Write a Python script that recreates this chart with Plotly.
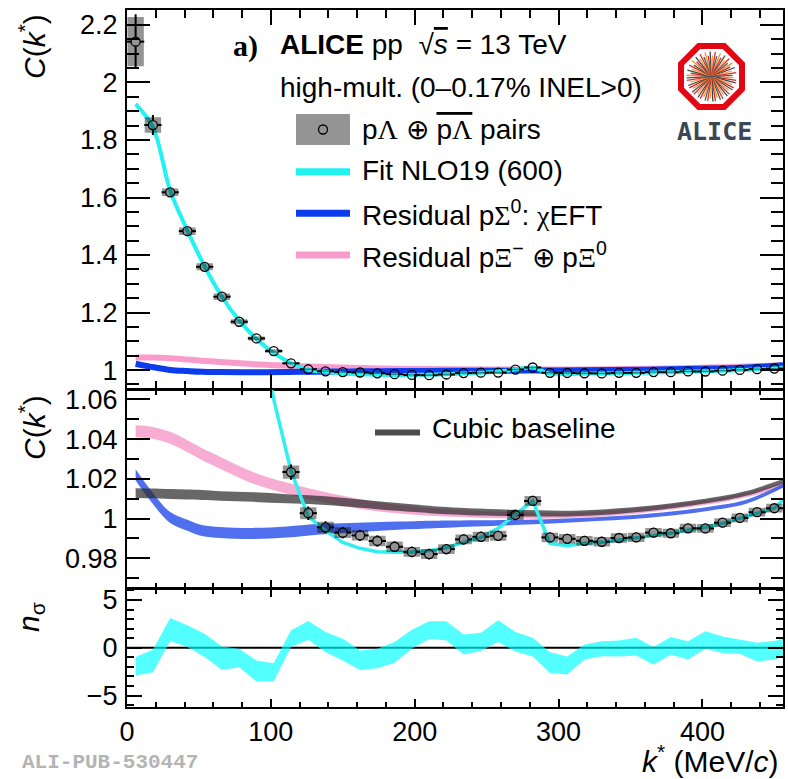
import numpy as np
import plotly.graph_objects as go

# ---------------- data ----------------
k_star = [6, 18, 30, 42, 54, 66, 78, 90, 102, 114, 126, 138, 150, 162, 174, 186, 198, 210, 222,
          234, 246, 258, 270, 282, 294, 306, 318, 330, 342, 354, 366, 378, 390, 402, 414, 426, 438, 450]
c_data = [2.142, 1.852, 1.618, 1.483, 1.359, 1.255, 1.168, 1.110, 1.066, 1.0234, 1.0027, 0.9956,
          0.9929, 0.9915, 0.9887, 0.9858, 0.9832, 0.9821, 0.9846, 0.9895, 0.9908, 0.9913, 1.0018,
          1.0089, 0.9905, 0.9898, 0.9888, 0.9883, 0.9902, 0.9905, 0.9929, 0.9926, 0.9951, 0.9950,
          0.9979, 1.0003, 1.0032, 1.0052]
c_stat = [0.095, 0.035, 0.016, 0.012, 0.010, 0.008, 0.007, 0.006, 0.005, 0.0038, 0.0034, 0.0030,
          0.0029, 0.0028, 0.0028, 0.0027, 0.0027, 0.0027, 0.0026, 0.0026, 0.0026, 0.0026, 0.0026,
          0.0026, 0.0025, 0.0025, 0.0025, 0.0025, 0.0025, 0.0024, 0.0024, 0.0024, 0.0024, 0.0024,
          0.0024, 0.0023, 0.0023, 0.0023]
c_sys = [0.0855, 0.027, 0.013, 0.013, 0.012, 0.011, 0.009, 0.007, 0.006, 0.0033, 0.0030, 0.0028,
         0.0027, 0.0026, 0.0026, 0.0026, 0.0025, 0.0025, 0.0025, 0.0025, 0.0025, 0.0025, 0.0025,
         0.0025, 0.0024, 0.0024, 0.0024, 0.0024, 0.0024, 0.0023, 0.0023, 0.0023, 0.0023, 0.0022,
         0.0022, 0.0022, 0.0022, 0.0022]

k_fit = [6, 18, 30, 42, 54, 66, 78, 90, 102, 114, 126, 138, 150, 162, 174, 186, 198, 210, 222,
         234, 246, 258, 270, 282, 294, 306, 318, 330, 342, 354, 366, 378, 390, 402, 414, 426, 438, 450, 456]
c_fit = [1.925, 1.845, 1.625, 1.485, 1.360, 1.255, 1.172, 1.108, 1.060, 1.024, 1.001, 0.9939,
         0.9880, 0.9850, 0.9833, 0.9830, 0.9831, 0.9838, 0.9853, 0.9880, 0.9905, 0.9951, 1.0018,
         1.0089, 0.9875, 0.9863, 0.9875, 0.9880, 0.9892, 0.9902, 0.9914, 0.9927, 0.9942, 0.9956,
         0.9976, 1.0000, 1.0027, 1.0052, 1.0094]

k_res = [6, 16, 30, 42, 52, 65, 88, 111, 132, 155, 176, 200, 222, 269, 315, 361, 407, 431, 456]
c_sigma0 = [1.0220, 1.0120, 1.0005, 0.9966, 0.9940, 0.9930, 0.9925, 0.9932, 0.9945, 0.9953,
            0.9961, 0.9967, 0.9972, 0.9980, 0.9993, 1.0013, 1.0052, 1.0086, 1.0165]
c_sigma0_err = [0.0028, 0.0028, 0.0028, 0.0028, 0.0028, 0.0028, 0.0028, 0.0028, 0.0027, 0.0025,
                0.0022, 0.0020, 0.0018, 0.0013, 0.0010, 0.0010, 0.0010, 0.0010, 0.0010]
c_xi = [1.0440, 1.0434, 1.0407, 1.0364, 1.0325, 1.0280, 1.0204, 1.0153, 1.0115, 1.0082, 1.0058,
        1.0040, 1.0029, 1.0016, 1.0018, 1.0044, 1.0086, 1.0120, 1.0170]
c_xi_err = [0.0030, 0.0030, 0.0030, 0.0030, 0.0030, 0.0030, 0.0029, 0.0028, 0.0027, 0.0025,
            0.0023, 0.0021, 0.0019, 0.0016, 0.0014, 0.0013, 0.0012, 0.0012, 0.0012]
c_base = [1.0128, 1.0127, 1.0124, 1.0121, 1.0119, 1.0114, 1.0108, 1.0100, 1.0093, 1.0080, 1.0066,
          1.0052, 1.0040, 1.0028, 1.0027, 1.0050, 1.0094, 1.0128, 1.0187]
c_base_err = [0.0025, 0.0025, 0.0025, 0.0025, 0.0025, 0.0024, 0.0024, 0.0023, 0.0022, 0.0021,
              0.0020, 0.0019, 0.0018, 0.0016, 0.0014, 0.0013, 0.0012, 0.0012, 0.0012]

k_nsig = k_fit
nsig_hi = [-0.98, -0.21, 3.12, 2.35, 1.47, 0.14, -0.10, -1.33, -1.61, 1.82, 2.81, 1.65, 0.95, -0.28,
           -0.10, 0.60, 1.89, 2.77, 2.77, 1.40, 1.58, 2.88, 1.65, 1.05, -0.46, -0.91, 0.35, 0.67,
           0.77, 1.05, 0.07, 1.12, 0.67, 1.72, 1.19, 0.88, 0.53, 0.70, 0.95]
nsig_lo = [-2.91, -2.56, 0.70, 0.07, -0.98, -2.32, -2.04, -3.54, -3.51, 0.07, 0.84, -0.46, -1.33,
           -2.32, -2.14, -1.58, -0.10, 0.95, 0.77, -0.70, -0.35, 0.60, -0.39, -0.91, -2.63, -2.81,
           -1.23, -0.88, -0.91, -0.81, -1.79, -0.74, -1.23, -0.10, -0.56, -0.63, -1.44, -1.23, -0.98]

x_ticks = [0, 100, 200, 300, 400]

# ---------------- geometry ----------------
W, H = 788, 779
ML, MR, MT, MB = 127, 5, 10, 72
PW, PH = W - ML - MR, H - MT - MB
X_RANGE = [0, 456]
Y1_RANGE = [0.934, 2.252]
Y2_RANGE = [0.965, 1.065]
Y3_RANGE = [-6.2, 6.2]
DOM1 = [0.4562, 1.0]
DOM2 = [0.1707, 0.4555]
DOM3 = [0.0, 0.1700]


def px(x):
    return (x - ML) / PW


def py(y):
    return (H - MB - y) / PH


px_per_k = PW / (X_RANGE[1] - X_RANGE[0])


def px_per_unit(dom, rng):
    return (dom[1] - dom[0]) * PH / (rng[1] - rng[0])


k = np.array(k_star, float)
c = np.array(c_data)
stat = np.array(c_stat)
sys = np.array(c_sys)
half_bin = (k[1] - k[0]) / 2.0
MARK_R = 4.5  # px


def box_path(kk, cc, ss, hw):
    xs, ys = [], []
    for a, b, s in zip(kk, cc, ss):
        xs += [a - hw, a + hw, a + hw, a - hw, a - hw, None]
        ys += [b - s, b - s, b + s, b + s, b - s, None]
    return xs, ys


def err_path(kk, cc, ss, xe, rx, ry):
    xs, ys = [], []
    for a, b, s in zip(kk, cc, ss):
        xs += [a - xe, a - rx, None, a + rx, a + xe, None]
        ys += [b, b, None, b, b, None]
        if s > ry:
            xs += [a, a, None, a, a, None]
            ys += [b + ry, b + s, None, b - ry, b - s, None]
    return xs, ys


fig = go.Figure()

CYAN = '#22f2f2'
BLUE = '#0c3cec'
PINK = '#fa9ccb'

# ---------------- top panel ----------------
fig.add_trace(go.Scatter(x=k_res, y=c_xi, mode='lines', line=dict(color=PINK, width=6, shape='spline'),
                         xaxis='x', yaxis='y', showlegend=False))
fig.add_trace(go.Scatter(x=k_res, y=c_sigma0, mode='lines', line=dict(color=BLUE, width=6, shape='spline'),
                         xaxis='x', yaxis='y', showlegend=False))
fig.add_trace(go.Scatter(x=k_fit, y=c_fit, mode='lines', line=dict(color=CYAN, width=4, shape='spline'),
                         xaxis='x', yaxis='y', showlegend=False))


def add_data(xa, ya, mask, dom, rng):
    ppu = px_per_unit(dom, rng)
    bx, by = box_path(k[mask], c[mask], sys[mask], half_bin * 0.95)
    fig.add_trace(go.Scatter(x=bx, y=by, mode='lines', fill='toself', fillcolor='rgba(0,0,0,0.42)',
                             line=dict(width=0), xaxis=xa, yaxis=ya, showlegend=False, hoverinfo='skip'))
    ex, ey = err_path(k[mask], c[mask], stat[mask], half_bin, MARK_R / px_per_k, MARK_R / ppu)
    fig.add_trace(go.Scatter(x=ex, y=ey, mode='lines', line=dict(color='black', width=2),
                             xaxis=xa, yaxis=ya, showlegend=False, hoverinfo='skip'))
    fig.add_trace(go.Scatter(x=k[mask], y=c[mask], mode='markers',
                             marker=dict(symbol='circle-open', size=2 * MARK_R,
                                         line=dict(color='black', width=1.3), color='black'),
                             xaxis=xa, yaxis=ya, showlegend=False))


add_data('x', 'y', c < Y1_RANGE[1] + 1, DOM1, Y1_RANGE)

# ---------------- middle panel ----------------
def add_band(xv, center, err, color, xa, ya):
    lo = np.array(center) - np.array(err)
    hi = np.array(center) + np.array(err)
    fig.add_trace(go.Scatter(x=xv, y=lo, mode='lines', line=dict(width=0, shape='spline'),
                             xaxis=xa, yaxis=ya, showlegend=False, hoverinfo='skip'))
    fig.add_trace(go.Scatter(x=xv, y=hi, mode='lines', line=dict(width=0, shape='spline'), fill='tonexty',
                             fillcolor=color, xaxis=xa, yaxis=ya, showlegend=False, hoverinfo='skip'))


add_band(k_res, c_xi, c_xi_err, 'rgba(244,140,196,0.72)', 'x2', 'y2')
add_band(k_res, c_sigma0, c_sigma0_err, 'rgba(30,70,235,0.78)', 'x2', 'y2')
add_band(k_res, c_base, c_base_err, 'rgba(45,45,45,0.72)', 'x2', 'y2')
fig.add_trace(go.Scatter(x=k_fit, y=c_fit, mode='lines', line=dict(color='#33eeee', width=3.5),
                         xaxis='x2', yaxis='y2', showlegend=False))
add_data('x2', 'y2', c < Y2_RANGE[1], DOM2, Y2_RANGE)

# ---------------- bottom panel ----------------
fig.add_trace(go.Scatter(x=k_nsig, y=nsig_lo, mode='lines', line=dict(width=0),
                         xaxis='x3', yaxis='y3', showlegend=False, hoverinfo='skip'))
fig.add_trace(go.Scatter(x=k_nsig, y=nsig_hi, mode='lines', line=dict(width=0), fill='tonexty',
                         fillcolor='rgba(0,255,255,0.67)', xaxis='x3', yaxis='y3', showlegend=False))

# ---------------- axes ----------------
FONT = 'Liberation Sans, Arial, sans-serif'


def xax(anchor, labels, mlen, nlen):
    return dict(range=X_RANGE, domain=[0, 1], anchor=anchor, showline=True, linecolor='black', linewidth=2,
                mirror='ticks', ticks='inside', ticklen=mlen, tickwidth=2, tickcolor='black',
                tickvals=x_ticks, showticklabels=labels, showgrid=False, zeroline=False,
                minor=dict(dtick=20, tick0=0, ticks='inside', ticklen=nlen, tickwidth=2, tickcolor='black',
                           showgrid=False),
                tickfont=dict(family=FONT, size=27, color='black'), ticklabelstandoff=0)


def yax(anchor, dom, rng, dt, mdt, mlen, nlen):
    return dict(range=rng, domain=dom, anchor=anchor, showline=True, linecolor='black', linewidth=2,
                mirror='ticks', ticks='inside', ticklen=mlen, tickwidth=2, tickcolor='black',
                dtick=dt, tick0=0, showgrid=False, zeroline=False,
                minor=dict(dtick=mdt, ticks='inside', ticklen=nlen, tickwidth=2, tickcolor='black',
                           showgrid=False),
                tickfont=dict(family=FONT, size=27, color='black'), ticklabelstandoff=2)


shapes = []
annotations = []

# zero line in n_sigma panel
shapes.append(dict(type='line', xref='x3 domain', yref='y3', x0=0, x1=1, y0=0, y1=0,
                   line=dict(color='black', width=2), layer='below'))


def ann(x, y, text, size=28, xanchor='left', family=FONT, color='black', angle=0):
    annotations.append(dict(x=px(x), y=py(y), xref='paper', yref='paper', text=text, showarrow=False,
                            xanchor=xanchor, yanchor='middle', textangle=angle,
                            font=dict(family=family, size=size, color=color)))


SER = "font-family:'Liberation Serif','Times New Roman',serif"
OVL = "text-decoration:overline"

ann(231, 46, '<b>a)</b>', size=30, family='Liberation Serif, Times New Roman, serif')
ann(278, 45, "<b>ALICE</b> pp  √<span style=\"%s\"><i>s</i></span> = 13 TeV" % OVL)
ann(278, 87, 'high-mult. (0–0.17% INEL&gt;0)')

# legend
shapes.append(dict(type='rect', xref='paper', yref='paper', x0=px(296), x1=px(350), y0=py(145), y1=py(114),
                   fillcolor='rgba(0,0,0,0.42)', line=dict(width=0)))
shapes.append(dict(type='circle', xref='paper', yref='paper', x0=px(323 - MARK_R), x1=px(323 + MARK_R),
                   y0=py(129.5 + MARK_R), y1=py(129.5 - MARK_R), line=dict(color='black', width=1.3)))
for yy, col in [(171.7, CYAN), (213.3, BLUE), (255, PINK)]:
    shapes.append(dict(type='line', xref='paper', yref='paper', x0=px(296), x1=px(350), y0=py(yy), y1=py(yy),
                       line=dict(color=col, width=7)))
ann(360, 129, 'p<span style="%s">Λ</span> ⊕ <span style="%s">p</span><span style="%s;%s">Λ</span> pairs'
    % (SER, OVL, SER, OVL))
ann(360, 171, 'Fit NLO19 (600)')
ann(360, 213, 'Residual p<span style="%s">Σ</span><sup>0</sup>: <span style="%s">χ</span>EFT' % (SER, SER))
ann(360, 255, 'Residual p<span style="%s">Ξ</span><sup>−</sup> ⊕ p<span style="%s">Ξ</span><sup>0</sup>'
    % (SER, SER))

# cubic baseline legend
shapes.append(dict(type='line', xref='paper', yref='paper', x0=px(375), x1=px(420), y0=py(432.5), y1=py(432.5),
                   line=dict(color='rgba(45,45,45,0.85)', width=6)))
ann(430, 429, 'Cubic baseline')

# axis titles
ann(32, 47, '<i>C</i>(<i>k</i><sup>*</sup>)', size=30, xanchor='center', angle=-90)
ann(32, 428, '<i>C</i>(<i>k</i><sup>*</sup>)', size=30, xanchor='center', angle=-90)
ann(30, 617, '<i>n</i><sub>σ</sub>', size=30, xanchor='center', angle=-90)
annotations.append(dict(x=px(781), y=py(759), xref='paper', yref='paper',
                        text='<i>k</i><sup>*</sup> (MeV/<i>c</i>)', showarrow=False, xanchor='right',
                        yanchor='middle', font=dict(family=FONT, size=30, color='black')))
ann(20, 762, '<b>ALI-PUB-530447</b>', size=21, family='Liberation Mono, Courier New, monospace',
    color='#b4b4b4')

# ALICE logo
cx, cy, rad = 711.5, 76.5, 33.0
ang = np.deg2rad(22.5 + 45 * np.arange(8))
oct_pts = [(cx + rad * np.cos(a), cy + rad * np.sin(a)) for a in ang]
path = 'M ' + ' L '.join('%.5f,%.5f' % (px(a), py(b)) for a, b in oct_pts) + ' Z'
spoke_cols = ['#f39323', '#e2231a', '#37474f', '#f7a14a', '#d9302b', '#4a5866']
n_sp = 30
for j in range(n_sp):
    a = np.pi * j / n_sp + 0.05
    r1 = 25 if j % 2 == 0 else 21
    r2 = 22 if j % 3 == 0 else 25
    shapes.append(dict(type='line', xref='paper', yref='paper',
                       x0=px(cx - r1 * np.cos(a)), y0=py(cy - r1 * np.sin(a)),
                       x1=px(cx + r2 * np.cos(a)), y1=py(cy + r2 * np.sin(a)),
                       line=dict(color=spoke_cols[j % len(spoke_cols)], width=1.3)))
shapes.append(dict(type='path', xref='paper', yref='paper', path=path, line=dict(color='#e30613', width=6)))
ann(714, 131, '<b>ALICE</b>', size=25, xanchor='center', family='DejaVu Sans Mono, monospace',
    color='#3b4753')

fig.update_layout(
    width=W, height=H,
    margin=dict(l=ML, r=MR, t=MT, b=MB, autoexpand=False),
    paper_bgcolor='white', plot_bgcolor='white',
    showlegend=False,
    xaxis=xax('y', False, 15, 8),
    yaxis=yax('x', DOM1, Y1_RANGE, 0.2, 0.05, 23, 12),
    xaxis2=xax('y2', False, 8, 5),
    yaxis2=yax('x2', DOM2, Y2_RANGE, 0.02, 0.01, 23, 12),
    xaxis3=xax('y3', True, 8, 5),
    yaxis3=yax('x3', DOM3, Y3_RANGE, 5, 1, 15, 7),
    shapes=shapes,
    annotations=annotations,
)
fig.update_yaxes(tick0=1, selector=dict(anchor='x'))

fig.write_html('out.html')
